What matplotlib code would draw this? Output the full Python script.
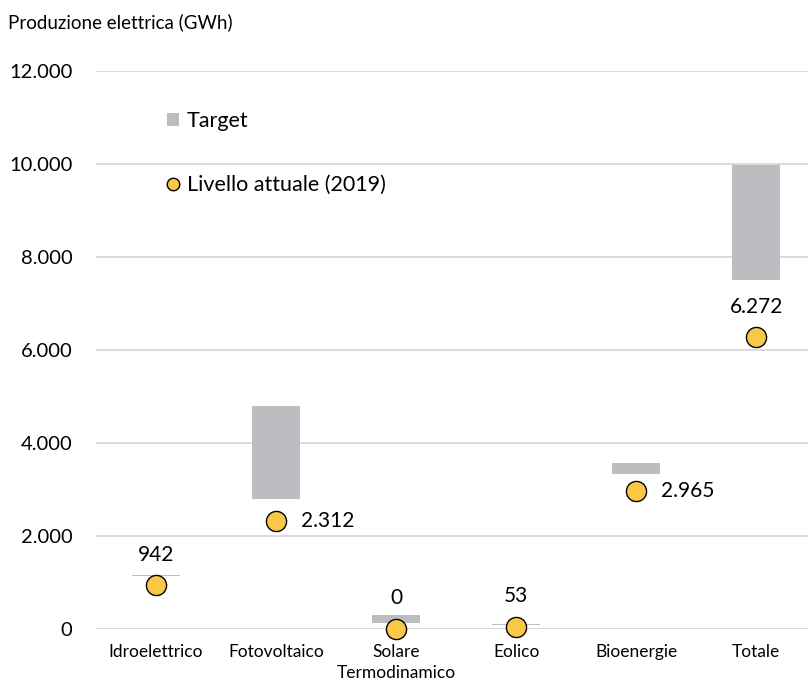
import matplotlib
matplotlib.use("Agg")
import matplotlib.pyplot as plt
from matplotlib.patches import Patch
from matplotlib.lines import Line2D

plt.rcParams['font.family'] = ['Lato', 'DejaVu Sans']

# dati
categorie = ['Idroelettrico', 'Fotovoltaico', 'Solare\nTermodinamico', 'Eolico', 'Bioenergie', 'Totale']
target_min = [1140, 2800, 130, 85, 3330, 7500]
target_max = [1165, 4800, 300, 100, 3580, 9980]
livello_2019 = [942, 2312, 0, 53, 2965, 6272]
posizione_etichetta = ['top', 'right', 'top', 'top', 'right', 'top']
y_ticks = [0, 2000, 4000, 6000, 8000, 10000, 12000]

GRIGIO = '#BCBDC0'
GIALLO = '#F9C846'


def fmt(v):
    return f"{v:,}".replace(',', '.')


fig = plt.figure(figsize=(8.08, 6.82), dpi=100)
ax = fig.add_axes([96 / 808, 53 / 682, 1 - 96 / 808, (629 - 71) / 682])

x = list(range(len(categorie)))
altezze = [hi - lo for lo, hi in zip(target_min, target_max)]
ax.bar(x, altezze, bottom=target_min, width=0.4, color=GRIGIO, zorder=2)
ax.plot(x, livello_2019, linestyle='none', marker='o', markersize=14.5,
        markerfacecolor=GIALLO, markeredgecolor='black', markeredgewidth=1.0,
        zorder=3, clip_on=False)

# etichette dei valori
for xi, v, pos in zip(x, livello_2019, posizione_etichetta):
    if pos == 'top':
        ax.annotate(fmt(v), (xi, v), xytext=(0, 22), textcoords='offset points',
                    ha='center', va='center', fontsize=15)
    else:
        ax.annotate(fmt(v), (xi, v), xytext=(18, 0), textcoords='offset points',
                    ha='left', va='center', fontsize=15)

ax.set_xlim(-0.5, 5.43)
ax.set_ylim(0, 12000)
ax.set_yticks(y_ticks)
ax.set_yticklabels([fmt(t) for t in y_ticks], fontsize=14.5)
ax.set_xticks(x)
ax.set_xticklabels(categorie, fontsize=12.5, linespacing=1.35)
ax.tick_params(axis='y', length=0, pad=17)
ax.tick_params(axis='x', length=0, pad=11)
ax.grid(axis='y', color='#D9D9D9', linewidth=1.3, zorder=0)
ax.set_axisbelow(True)
for s in ax.spines.values():
    s.set_visible(False)

handles = [Patch(facecolor=GRIGIO, edgecolor='none', label='Target'),
           Line2D([], [], linestyle='none', marker='o', markersize=9,
                  markerfacecolor=GIALLO, markeredgecolor='black',
                  markeredgewidth=1.0, label='Livello attuale (2019)')]
ax.legend(handles=handles, loc='upper left', bbox_to_anchor=(0.085, 0.948),
          frameon=False, fontsize=15.5, handlelength=0.55, handleheight=0.55,
          handletextpad=0.35, labelspacing=2.05, borderpad=0)

fig.text(8 / 808, 1 - 22 / 682, 'Produzione elettrica (GWh)', fontsize=13.5,
         ha='left', va='center')

fig.savefig('out.png', dpi=100)
